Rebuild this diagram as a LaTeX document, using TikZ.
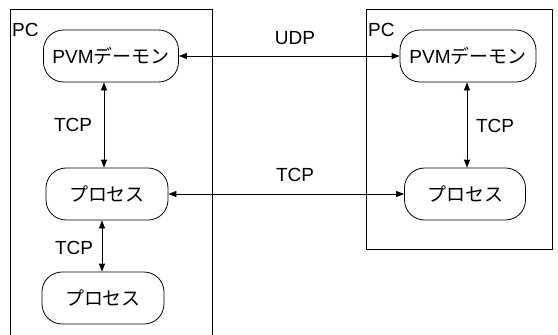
\documentclass[tikz,border=0pt]{standalone}
\usepackage{fontspec}
\setmainfont{Liberation Sans}
\newfontfamily\jp{Noto Sans CJK JP}
\usetikzlibrary{arrows.meta}
\tikzset{
  proc/.style={draw, thick, rounded corners=20pt, minimum height=52pt, inner sep=0pt},
  pcbox/.style={draw, thick},
  link/.style={thick, {Triangle[width=6pt,length=8pt]}-{Triangle[width=6pt,length=8pt]}},
  lbl/.style={inner sep=0pt}
}
\begin{document}
\begin{tikzpicture}[x=1pt,y=-1pt,font=\fontsize{19}{22}\selectfont]
\useasboundingbox (0,0) rectangle (558,335);
\clip (0,0) rectangle (558,335);
% PC boxes
\draw[pcbox] (10,9) rectangle (212,345);
\draw[pcbox] (366,9) rectangle (552,249);
\node[lbl, anchor=west] (pcL) at (12,30) {PC};
\node[lbl, anchor=west] (pcR) at (368,30) {PC};
% left PC
\node[proc, minimum width=135pt] (pvmL) at (111,56) {PVM{\jp デーモン}};
\node[proc, minimum width=122pt] (procL) at (107,194) {\jp プロセス};
\node[proc, minimum width=122pt] (procLL) at (103,298) {\jp プロセス};
% right PC
\node[proc, minimum width=136pt] (pvmR) at (468,56) {PVM{\jp デーモン}};
\node[proc, minimum width=121pt] (procR) at (465,194) {\jp プロセス};
\coordinate (xa) at (104,0);
\coordinate (xb) at (102,0);
\coordinate (xc) at (467,0);
\draw[link] (pvmL.south -| xa) -- (procL.north -| xa);
\draw[link] (procL.south -| xb) -- (procLL.north -| xb);
\draw[link] (pvmR.south -| xc) -- (procR.north -| xc);
\draw[link] (pvmL) -- (pvmR);
\draw[link] (procL) -- (procR);
\node[lbl] (tcpA) at (73,125) {TCP};
\node[lbl] (tcpB) at (74,248) {TCP};
\node[lbl] (tcpC) at (495,126) {TCP};
\node[lbl] (udp) at (295,38) {UDP};
\node[lbl] (tcpD) at (295,175) {TCP};
\end{tikzpicture}
\end{document}
